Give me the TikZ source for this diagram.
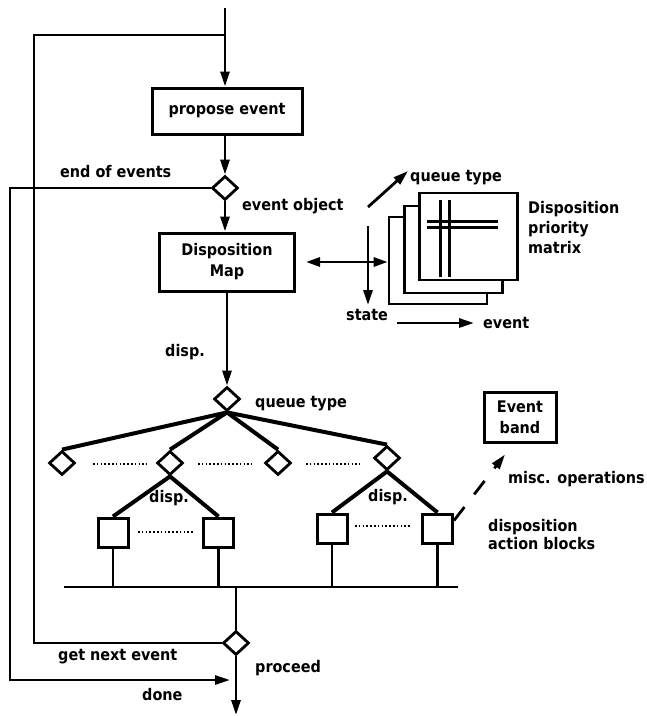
\documentclass[tikz,border=0pt]{standalone}
\usepackage{fontspec}
\setmainfont{DejaVu Sans Condensed}
\usetikzlibrary{arrows.meta,shapes.geometric,calc}
\begin{document}
\begin{tikzpicture}[x=1pt,y=-1pt,
  every node/.style={font=\fontsize{16}{20}\selectfont\bfseries},
  tip/.style={-{Triangle[length=15pt,width=9pt]}},
  flow/.style={line width=2.8pt},
  arr/.style={flow,tip},
  twoway/.style={flow,{Triangle[length=14pt,width=9pt]}-{Triangle[length=14pt,width=9pt]}},
  treeline/.style={line width=4pt},
  thin/.style={line width=2.4pt},
  dots/.style={line width=1.8pt,dash pattern=on 1.6pt off 2.2pt},
  procbox/.style={draw,line width=3pt,rectangle,inner sep=0pt,align=center},
  dec/.style={draw,diamond,line width=2.8pt,inner sep=0pt,minimum width=26pt,minimum height=24pt},
  actbox/.style={draw,rectangle,line width=3pt,minimum width=30pt,minimum height=29pt,inner sep=0pt},
  page/.style={draw,fill=white,line width=2.6pt,rectangle,inner sep=0pt,minimum width=98pt,minimum height=87pt},
  grid/.style={line width=3pt},
  lbl/.style={anchor=base west,inner sep=0pt},
  multi/.style={anchor=base west,inner sep=0pt,align=left}]
\useasboundingbox (0,0) rectangle (647,716);

% entry and the outer loops
\coordinate (top) at (225,8);
\coordinate (loopL) at (34,35);
\coordinate (outerL) at (10,680);
\coordinate (bot) at (236,715);

% main chain
\node[procbox,minimum width=150pt,minimum height=46pt] (propose) at (227,111) {propose event};
\node[dec] (d1) at (225,188) {};
\node[procbox,minimum width=135pt,minimum height=58pt] (map) at (227,262) {Disposition\\[1pt]Map};
\node[dec] (d2) at (227,399) {};
\node[dec] (d3) at (236,643) {};

\draw[arr] (top) -- (top |- propose.north);
\draw[arr] (propose.south -| top) -- (d1.north);
\draw[arr] (d1.south) -- (d1.south |- map.north);
\draw[arr] (map.south) -- (d2.north);

% get next event loop and end of events path
\draw[flow] (d3.west) -| (loopL) -- (loopL -| top);
\draw[arr,shorten >=6pt] (d1.west) -| (outerL) -- (outerL -| bot);
\draw[arr] (d3.south) -- (bot);

% disposition priority matrix pages
\node[page] (back) at (438,260.5) {};
\node[page] (mid) at (453.5,249.5) {};
\node[page] (front) at (468.5,236.5) {};
\draw[grid] (440,200) -- (440,277);
\draw[grid] (449,200) -- (449,277);
\draw[grid] (427,221) -- (498,221);
\draw[grid] (427,227) -- (498,227);

\draw[twoway,shorten <=10pt] (map.east) -- (map.east -| back.west);

% matrix axes
\coordinate (stateA) at (368,226);
\coordinate (stateB) at (368,305);
\coordinate (eventA) at (397,323);
\coordinate (eventB) at (474,323);
\coordinate (qtA) at (368,207);
\coordinate (qtB) at (408,171);
\draw[arr] (stateA) -- (stateB);
\draw[arr] (eventA) -- (eventB);
\draw[arr] (qtA) -- (qtB);

% queue type tree
\node[dec] (q1) at (62,463) {};
\node[dec] (q2) at (170,463) {};
\node[dec] (q3) at (278,463) {};
\node[dec] (q4) at (387,458) {};
\foreach \q in {q1,q2,q3,q4} \draw[treeline] (d2.south) -- (\q.north);
\draw[dots] (93,464) -- (147,464);
\draw[dots] (198,464) -- (252,464);
\draw[dots] (306,464) -- (360,464);

\node[actbox] (b1) at (113,532.5) {};
\node[actbox] (b2) at (218.5,532.5) {};
\node[actbox] (b3) at (332,528.5) {};
\node[actbox] (b4) at (437.5,528.5) {};
\draw[treeline] (q2.south) -- (b1.north);
\draw[treeline] (q2.south) -- (b2.north);
\draw[treeline] (q4.south) -- (b3.north);
\draw[treeline] (q4.south) -- (b4.north);
\draw[dots] (138,532) -- (193,532);
\draw[dots] (355,526) -- (410,526);

% collecting bus
\coordinate (busL) at (64,587);
\coordinate (busR) at (458,587);
\draw[thin] (busL) -- (busR);
\foreach \b in {b1,b2,b3,b4} \draw[thin] (\b.south) -- (\b.south |- busL);
\draw[flow] (d3.north |- busL) -- (d3.north);

% event band
\node[procbox,minimum width=72pt,minimum height=50pt] (evb) at (520,417) {Event\\[1pt]band};
\draw[flow,dash pattern=on 17pt off 16pt,tip]
  ([yshift=8pt]b4.east) -- ($(evb.south)+(-15,11)$);

% labels
\node[lbl] at (60,177) {end of events};
\node[lbl] at (242,210) {event object};
\node[lbl] at (410,181) {queue type};
\node[multi] at (528,253) {Disposition\\priority\\matrix};
\node[lbl] at (346,320) {state};
\node[lbl] at (483,328) {event};
\node[lbl] at (165,356) {disp.};
\node[lbl] at (255,407) {queue type};
\node[lbl] at (149,502) {disp.};
\node[lbl] at (368,501) {disp.};
\node[lbl] at (508,483) {misc. operations};
\node[multi] at (488,549) {disposition\\[-2pt]action blocks};
\node[lbl] at (58,660) {get next event};
\node[lbl] at (255,672) {proceed};
\node[lbl] at (142,700) {done};
\end{tikzpicture}
\end{document}
